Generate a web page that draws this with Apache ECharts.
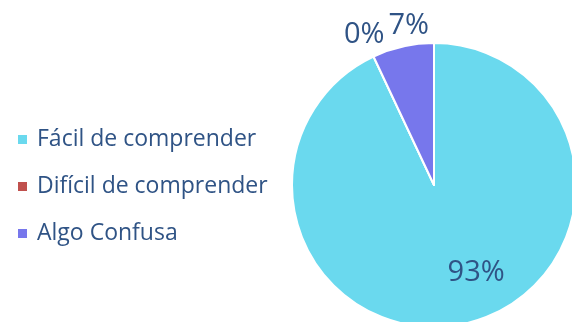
<!DOCTYPE html>
<html>
<head>
<meta charset="utf-8">
<script src="https://cdn.jsdelivr.net/npm/echarts@6/dist/echarts.min.js"></script>
<style>
  html, body { margin: 0; padding: 0; background: #ffffff; }
  #chart { width: 572px; height: 322px; }
</style>
</head>
<body>
<div id="chart"></div>
<script>
// Survey answers: how easy the explanation was to understand (percent)
const categories = ['Fácil de comprender', 'Difícil de comprender', 'Algo Confusa'];
const percents = [93, 0, 7];
const colors = ['#6ad9ee', '#c0504d', '#7777ec'];

const textColor = '#2f5385';
const fontFamily = '"Open Sans", "Noto Sans", sans-serif';

// label nudges per slice: big slice inside, thin slices above the rim
const labelShift = [
  { dx: 26, dy: 16 },
  { dx: 16, dy: -22 },
  { dx: 31, dy: -21 }
];

const chart = echarts.init(document.getElementById('chart'), null, { renderer: 'canvas' });

chart.setOption({
  animation: false,
  color: colors,
  legend: {
    orient: 'vertical',
    left: 11,
    top: 123,
    itemWidth: 11,
    itemHeight: 11,
    itemGap: 24,
    icon: 'rect',
    textStyle: { color: textColor, fontSize: 23, fontFamily: fontFamily, padding: [0, 0, 0, 4] },
    data: categories
  },
  series: [{
    type: 'pie',
    center: [434, 185],
    radius: 142,
    startAngle: 90,
    clockwise: true,
    avoidLabelOverlap: false,
    itemStyle: { borderColor: '#ffffff', borderWidth: 2 },
    label: {
      show: true,
      formatter: '{c}%',
      color: textColor,
      fontSize: 29,
      fontFamily: fontFamily
    },
    labelLine: { show: false, length: 0, length2: 0 },
    labelLayout: function (params) {
      return labelShift[params.dataIndex];
    },
    data: categories.map((name, i) => ({
      name: name,
      value: percents[i],
      label: { position: i === 0 ? 'inside' : 'outside' }
    }))
  }]
});
</script>
</body>
</html>
